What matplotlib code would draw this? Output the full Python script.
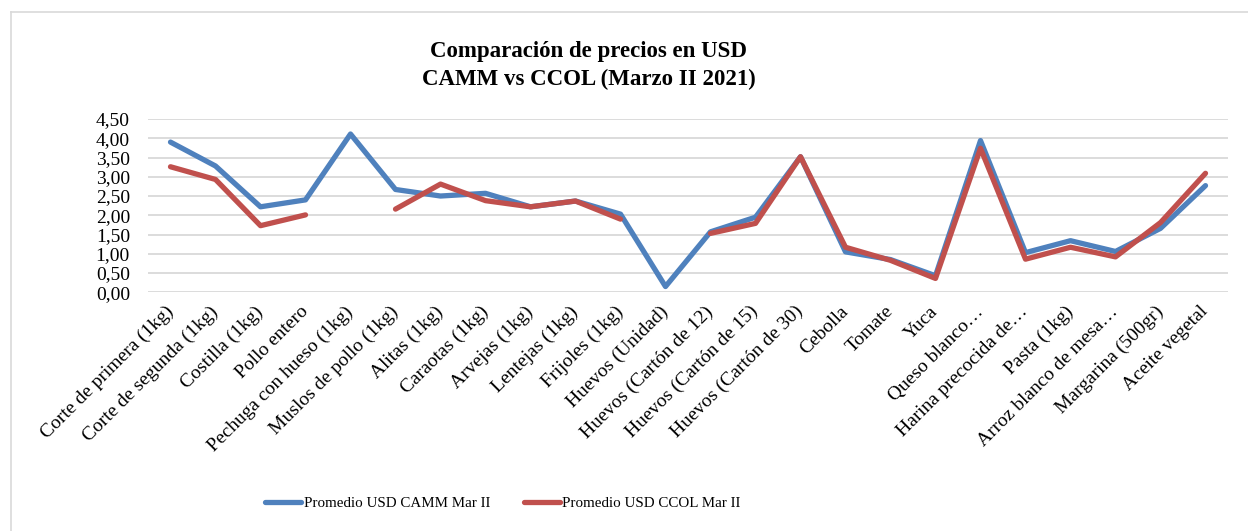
import matplotlib.pyplot as plt
import matplotlib.lines as mlines
import numpy as np

# categories and series
categories = ['Corte de primera (1kg)', 'Corte de segunda (1kg)', 'Costilla (1kg)',
              'Pollo entero', 'Pechuga con hueso (1kg)', 'Muslos de pollo (1kg)',
              'Alitas (1kg)', 'Caraotas (1kg)', 'Arvejas (1kg)', 'Lentejas (1kg)',
              'Frijoles (1kg)', 'Huevos (Unidad)', 'Huevos (Cartón de 12)',
              'Huevos (Cartón de 15)', 'Huevos (Cartón de 30)', 'Cebolla', 'Tomate',
              'Yuca', 'Queso blanco…', 'Harina precocida de…', 'Pasta (1kg)',
              'Arroz blanco de mesa…', 'Margarina (500gr)', 'Aceite vegetal']

camm = [3.90, 3.28, 2.22, 2.40, 4.11, 2.67, 2.50, 2.57, 2.22, 2.37, 2.03, 0.15,
        1.57, 1.95, 3.52, 1.05, 0.85, 0.43, 3.94, 1.03, 1.34, 1.06, 1.66, 2.77]
ccol = [3.26, 2.93, 1.73, 2.01, np.nan, 2.16, 2.81, 2.38, 2.22, 2.37, 1.90, np.nan,
        1.53, 1.79, 3.52, 1.17, 0.83, 0.36, 3.74, 0.86, 1.17, 0.92, 1.81, 3.09]

yticks = [0, 0.5, 1, 1.5, 2, 2.5, 3, 3.5, 4, 4.5]
ytick_labels = ['0,00', '0,50', '1,00', '1,50', '2,00', '2,50', '3,00', '3,50', '4,00', '4,50']

series_labels = ['Promedio USD CAMM Mar II', 'Promedio USD CCOL Mar II']
blue = '#4F81BD'
red = '#C0504D'

plt.rcParams['font.family'] = ['Liberation Serif', 'DejaVu Serif']

fig = plt.figure(figsize=(12.48, 5.31), dpi=100)
ax = fig.add_axes([148/1248, 1-292.3/531, 1080/1248, (292.3-119)/531])

x = np.arange(len(categories))
ax.plot(x, camm, color=blue, lw=3.8, solid_capstyle='round', solid_joinstyle='round')
ax.plot(x, ccol, color=red, lw=3.8, solid_capstyle='round', solid_joinstyle='round')

ax.set_xlim(-0.5, len(categories)-0.5)
ax.set_ylim(0, 4.5)
ax.set_yticks(yticks)
ax.set_yticklabels(ytick_labels, fontsize=14)
ax.set_xticks(x)
ax.set_xticklabels(categories, rotation=45, ha='right', va='center',
                   rotation_mode='anchor', fontsize=14)
ax.tick_params(axis='both', length=0)
ax.tick_params(axis='x', pad=12)
ax.tick_params(axis='y', pad=13)
ax.grid(axis='y', color='#D9D9D9', lw=1.3)
ax.set_axisbelow(True)
for s in ax.spines.values():
    s.set_visible(False)

fig.text(589/1248, 1-51/531, 'Comparación de precios en USD', ha='center', va='center',
         fontsize=16.5, fontweight='bold')
fig.text(589/1248, 1-79/531, 'CAMM vs CCOL (Marzo II 2021)', ha='center', va='center',
         fontsize=16.5, fontweight='bold')

# legend
handles = [mlines.Line2D([], [], color=blue, lw=3.8, solid_capstyle='round'),
           mlines.Line2D([], [], color=red, lw=3.8, solid_capstyle='round')]
fig.legend(handles, series_labels, loc='center', bbox_to_anchor=(503/1248, 1-503/531),
           ncol=2, frameon=False, fontsize=10.8, handlelength=2.4, handletextpad=0.2,
           columnspacing=2.2)

# chart area border (left and top edges visible)
fig.add_artist(mlines.Line2D([11/1248, 11/1248], [0, 1-12/531], color='#D9D9D9', lw=1.2))
fig.add_artist(mlines.Line2D([11/1248, 1], [1-12/531, 1-12/531], color='#D9D9D9', lw=1.2))

fig.savefig('out.png', dpi=100)
